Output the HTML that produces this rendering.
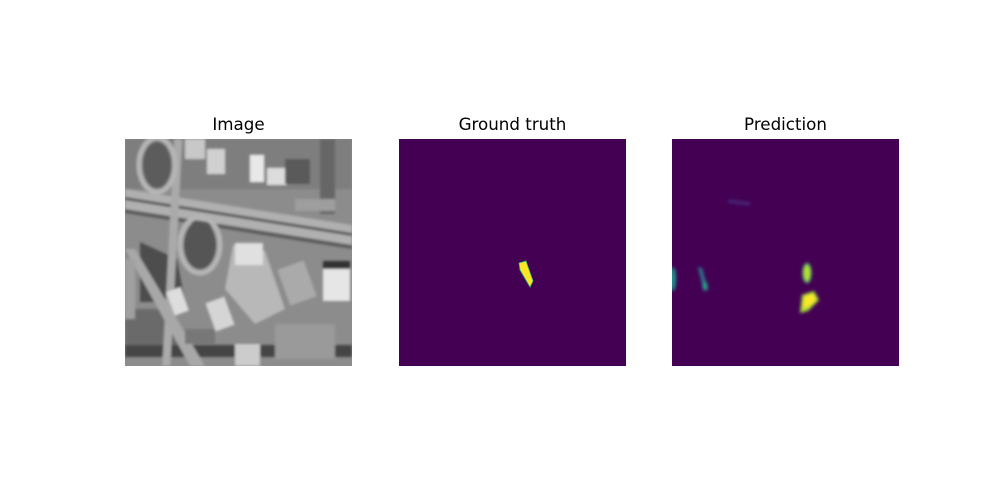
<!DOCTYPE html>
<html><head><meta charset="utf-8"><style>
body{margin:0;background:#fff;width:1000px;height:500px;overflow:hidden;font-family:"DejaVu Sans","Liberation Sans",sans-serif;}
.t{position:absolute;font-size:16.7px;color:#000;text-align:center;width:227px;top:114px;line-height:20px;}
svg{position:absolute;}
</style></head><body>
<div class="t" style="left:125px">Image</div>
<div class="t" style="left:399px">Ground truth</div>
<div class="t" style="left:672px">Prediction</div>

<svg style="left:125px;top:139px" width="227" height="227" viewBox="0 0 227 227">
<defs><filter id="b1"><feGaussianBlur stdDeviation="1.2"/></filter></defs>
<rect width="227" height="227" fill="#8c8c8c"/>
<g filter="url(#b1)">
<rect x="0" y="0" width="227" height="50" fill="#7e7e7e"/>
<polygon points="15,103 52,120 60,163 15,163" fill="#4e4e4e"/>
<polygon points="0,170 40,170 60,215 0,215" fill="#6a6a6a"/>
<rect x="0" y="206" width="227" height="12" fill="#444"/>
<polygon points="0,50 227,86 227,110 0,72" fill="#b0b0b0"/>
<polygon points="0,58 227,94 227,97 0,61" fill="#555"/>
<polygon points="0,70 227,106 227,110 0,74" fill="#5a5a5a"/>
<rect x="44" y="0" width="8" height="227" fill="#aaa" transform="rotate(3 48 100)"/>
<ellipse cx="32" cy="26" rx="18" ry="27" fill="none" stroke="#b5b5b5" stroke-width="5"/>
<ellipse cx="32" cy="26" rx="14" ry="23" fill="#5c5c5c"/>
<ellipse cx="75" cy="106" rx="20" ry="28" fill="none" stroke="#b5b5b5" stroke-width="5"/>
<ellipse cx="75" cy="106" rx="16" ry="24" fill="#555"/>
<polygon points="0,110 10,110 80,227 65,227" fill="#a8a8a8"/>
<rect x="125" y="16" width="14" height="27" fill="#e8e8e8"/>
<rect x="142" y="29" width="20" height="17" fill="#dcdcdc"/>
<rect x="60" y="0" width="20" height="20" fill="#c8c8c8"/>
<rect x="82" y="10" width="18" height="25" fill="#d0d0d0"/>
<rect x="198" y="129" width="27" height="33" fill="#e6e6e6"/>
<rect x="198" y="122" width="27" height="8" fill="#333"/>
<polygon points="108,106 140,112 160,170 130,185 100,150" fill="#b8b8b8"/>
<rect x="110" y="104" width="28" height="22" fill="#e0e0e0"/>
<rect x="158" y="125" width="28" height="38" fill="#aaa" transform="rotate(-20 172 144)"/>
<rect x="45" y="150" width="15" height="25" fill="#ddd" transform="rotate(-20 52 162)"/>
<rect x="85" y="160" width="20" height="30" fill="#d5d5d5" transform="rotate(-20 95 175)"/>
<rect x="110" y="205" width="25" height="22" fill="#ccc"/>
<rect x="160" y="20" width="25" height="25" fill="#5a5a5a"/>
<rect x="195" y="0" width="15" height="75" fill="#666"/>
<rect x="0" y="120" width="10" height="60" fill="#a0a0a0"/>
<rect x="150" y="185" width="60" height="35" fill="#9a9a9a"/>
<rect x="60" y="190" width="30" height="15" fill="#777"/>
<rect x="170" y="60" width="40" height="12" fill="#9e9e9e"/>
</g>
</svg>

<svg style="left:399px;top:139px" width="227" height="227" viewBox="0 0 227 227">
<rect width="227" height="227" fill="#440154"/>
<polygon points="120,124 127,122 134,142 131,148 121,131" fill="#fde725" stroke="#35b779" stroke-width="0.8"/>
</svg>

<svg style="left:672px;top:139px" width="227" height="227" viewBox="0 0 227 227">
<defs><filter id="b2"><feGaussianBlur stdDeviation="1.5"/></filter></defs>
<rect width="227" height="227" fill="#440154"/>
<g filter="url(#b2)">
<line x1="56" y1="62" x2="78" y2="65" stroke="#46327e" stroke-width="2.5"/>
<ellipse cx="135" cy="134" rx="4.5" ry="10" fill="#5ec962"/>
<ellipse cx="135" cy="134" rx="3" ry="7" fill="#b5de2b"/>
<polygon points="130,156 142,152 147,161 136,172 128,174" fill="#a0da39"/>
<polygon points="133,157 141,155 144,161 136,168 131,169" fill="#fde725"/>
<polygon points="26,128 30,129 36,151 32,152" fill="#2a788e"/>
<ellipse cx="33" cy="147" rx="2.5" ry="4" fill="#22a884"/>
<ellipse cx="1" cy="140" rx="3" ry="12" fill="#21918c"/>
</g>
</svg>
</body></html>
